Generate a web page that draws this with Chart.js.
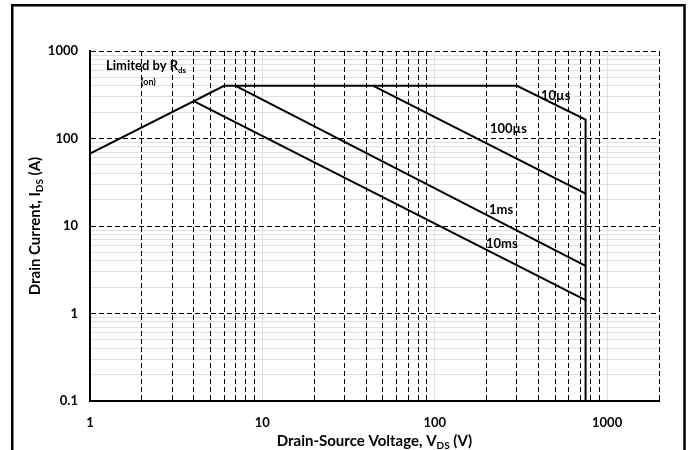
<!DOCTYPE html>
<html>
<head>
<meta charset="utf-8">
<script src="https://cdn.jsdelivr.net/npm/chart.js@4"></script>
<style>
  html, body { margin: 0; padding: 0; background: #fff; }
  #wrap { position: relative; width: 694px; height: 450px; }
</style>
</head>
<body>
<div id="wrap"><canvas id="soaChart" width="694" height="450"></canvas></div>
<script>
// Safe operating area, log-log

// grid positions (every 1..9 per decade) and which of them get a label
const X_GRID = [1, 2, 3, 4, 5, 6, 7, 8, 9,
                10, 20, 30, 40, 50, 60, 70, 80, 90,
                100, 200, 300, 400, 500, 600, 700, 800, 900,
                1000, 2000];
const Y_GRID = [0.1, 0.2, 0.3, 0.4, 0.5, 0.6, 0.7, 0.8, 0.9,
                1, 2, 3, 4, 5, 6, 7, 8, 9,
                10, 20, 30, 40, 50, 60, 70, 80, 90,
                100, 200, 300, 400, 500, 600, 700, 800, 900,
                1000];
const X_LABELS = [1, 10, 100, 1000];
const Y_LABELS = [0.1, 1, 10, 100, 1000];

// curves: drain-source voltage (V) / drain current (A)
const V_10US = [1, 6, 300, 750, 750];
const I_10US = [67, 400, 400, 164, 0.1];
const V_100US = [44, 750];
const I_100US = [400, 23.5];
const V_1MS = [7, 750];
const I_1MS = [400, 3.5];
const V_10MS = [4, 750];
const I_10MS = [268, 1.42];

const FONT = 'Lato, "Open Sans", sans-serif';
const GRAY = '#e0e0e0';

function toPoints(xs, ys) {
    return xs.map((x, i) => ({ x: x, y: ys[i] }));
}

function curve(label, xs, ys) {
    return {
        label: label,
        data: toPoints(xs, ys),
        borderColor: '#000',
        borderWidth: 2,
        pointRadius: 0,
        tension: 0,
        fill: false
    };
}

// scale factory: the visible scale draws dashed lines, the hidden twin draws the gray solid ones
function logScale(axis, pos, min, max, grid, labels, dashedAt, show) {
    const scale = {
        type: 'logarithmic',
        axis: axis,
        position: pos,
        min: min,
        max: max,
        afterBuildTicks: (s) => { s.ticks = grid.map(v => ({ value: v })); },
        grid: {
            drawTicks: false,
            lineWidth: 1,
            color: (c) => dashedAt(c.tick.value) ? (show ? '#000' : GRAY) : 'rgba(0,0,0,0)'
        },
        border: show ? { display: true, color: '#000', width: 2, dash: [5, 3] } : { display: false },
        ticks: {
            display: show,
            autoSkip: false,
            maxRotation: 0,
            color: '#000',
            padding: axis === 'x' ? 14 : 12,
            font: { family: FONT, size: 13, weight: 'bold' },
            callback: (v) => labels.includes(v) ? String(v) : ''
        }
    };
    if (show) {
        scale.afterFit = axis === 'x' ? (s) => { s.height = 49; } : (s) => { s.width = 90; };
    } else {
        scale.afterFit = axis === 'x' ? (s) => { s.height = 0; } : (s) => { s.width = 0; };
    }
    return scale;
}

function drawRich(ctx, parts, x, y, size, align) {
    const subSize = Math.round(size * 0.65);
    let w = 0;
    parts.forEach(([t, sub]) => {
        ctx.font = 'bold ' + (sub ? subSize : size) + 'px ' + FONT;
        w += ctx.measureText(t).width;
    });
    let cx = align === 'center' ? x - w / 2 : x;
    parts.forEach(([t, sub]) => {
        ctx.font = 'bold ' + (sub ? subSize : size) + 'px ' + FONT;
        ctx.fillText(t, cx, sub ? y + size * 0.2 : y);
        cx += ctx.measureText(t).width;
    });
}

const textPlugin = {
    id: 'soaText',
    afterDraw(chart) {
        const ctx = chart.ctx;
        const area = chart.chartArea;
        ctx.save();
        ctx.fillStyle = '#000';
        ctx.textBaseline = 'alphabetic';

        // axis titles
        drawRich(ctx, [['Drain-Source Voltage, V', false], ['DS', true], [' (V)', false]],
            (area.left + area.right) / 2, 446, 15, 'center');
        ctx.save();
        ctx.translate(40, (area.top + area.bottom) / 2);
        ctx.rotate(-Math.PI / 2);
        drawRich(ctx, [['Drain Current, I', false], ['DS', true], [' (A)', false]], 0, 0, 15, 'center');
        ctx.restore();

        // curve notes
        drawRich(ctx, [['Limited by R', false], ['ds', true]], 106, 70, 13, 'left');
        ctx.font = 'bold 9px ' + FONT;
        ctx.fillText('(on)', 141, 85);
        ctx.font = 'bold 13px ' + FONT;
        ctx.fillText('10µs', 541, 100);
        ctx.fillText('100µs', 490, 133);
        ctx.fillText('1ms', 489, 214);
        ctx.fillText('10ms', 486, 248);

        // outer frame
        ctx.lineWidth = 2.5;
        ctx.strokeStyle = '#000';
        ctx.strokeRect(12.25, 5.25, 672.25, 470);
        ctx.restore();
    }
};

const isDecade = (v) => X_LABELS.includes(v);
const isYMajor = (v) => [1, 10, 100, 1000].includes(v);

new Chart(document.getElementById('soaChart').getContext('2d'), {
    type: 'line',
    data: {
        datasets: [
            curve('10µs', V_10US, I_10US),
            curve('100µs', V_100US, I_100US),
            curve('1ms', V_1MS, I_1MS),
            curve('10ms', V_10MS, I_10MS)
        ]
    },
    options: {
        responsive: false,
        animation: false,
        events: [],
        layout: { padding: { left: 0, top: 51, right: 35, bottom: 0 } },
        plugins: { legend: { display: false }, tooltip: { enabled: false } },
        scales: {
            xg: logScale('x', 'bottom', 1, 2000, X_GRID, X_LABELS, (v) => isDecade(v) && v !== 1, false),
            yg: logScale('y', 'left', 0.1, 1000, Y_GRID, Y_LABELS, (v) => !isYMajor(v) && v !== 0.1, false),
            x: logScale('x', 'bottom', 1, 2000, X_GRID, X_LABELS, (v) => !isDecade(v), true),
            y: logScale('y', 'left', 0.1, 1000, Y_GRID, Y_LABELS, (v) => isYMajor(v), true)
        }
    },
    plugins: [textPlugin]
});
</script>
</body>
</html>
